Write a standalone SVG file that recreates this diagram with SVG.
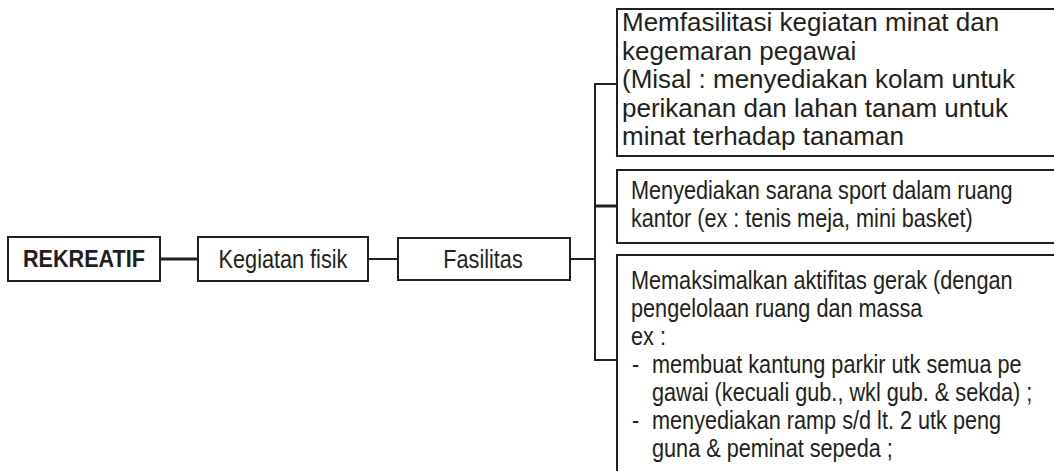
<svg xmlns="http://www.w3.org/2000/svg" width="1054" height="471" viewBox="0 0 1054 471">
<style>
.box{fill:#fff;stroke:#231f20;stroke-width:2}
.ln{fill:none;stroke:#231f20;stroke-width:2}
.thk{stroke-width:3}
.ar{font-family:"Liberation Sans",Arial,sans-serif;font-size:26px;fill:#231f20}
.nr{font-family:"Liberation Sans",Arial,sans-serif;font-size:25px;fill:#231f20}
.bd{font-family:"Liberation Sans",Arial,sans-serif;font-size:23px;font-weight:bold;fill:#231f20}
</style>
<rect width="1054" height="471" fill="#fff"/>
<g id="connectors">
<line class="ln thk" x1="160" y1="259" x2="198" y2="259"/>
<line class="ln" x1="368" y1="259" x2="398" y2="259"/>
<line class="ln" x1="570" y1="259" x2="595" y2="259"/>
<line class="ln" x1="595" y1="83" x2="595" y2="361"/>
<line class="ln" x1="594" y1="84" x2="617" y2="84"/>
<line class="ln thk" x1="594" y1="206" x2="617" y2="206"/>
<line class="ln" x1="594" y1="360" x2="617" y2="360"/>
</g>
<g id="rekreatif">
<rect class="box" x="8" y="237" width="152" height="44"/>
<text class="bd" x="84" y="267" text-anchor="middle" textLength="122" lengthAdjust="spacingAndGlyphs">REKREATIF</text>
</g>
<g id="kegiatan-fisik">
<rect class="box" x="198" y="237" width="170" height="44"/>
<text class="nr" transform="translate(283,268) scale(0.867,1)" text-anchor="middle">Kegiatan fisik</text>
</g>
<g id="fasilitas">
<rect class="box" x="398" y="238" width="172" height="42"/>
<text class="nr" transform="translate(483,268) scale(0.867,1)" text-anchor="middle">Fasilitas</text>
</g>
<g id="box-minat">
<rect class="box" x="617" y="9" width="440" height="147"/>
<text class="ar" x="622" y="31">Memfasilitasi kegiatan minat dan</text>
<text class="ar" x="622" y="59.5">kegemaran pegawai</text>
<text class="ar" x="622" y="88">(Misal : menyediakan kolam untuk</text>
<text class="ar" x="622" y="116.5">perikanan dan lahan tanam untuk</text>
<text class="ar" x="622" y="145">minat terhadap tanaman</text>
</g>
<g id="box-sport">
<rect class="box" x="617" y="170" width="440" height="73"/>
<text class="nr" transform="translate(631,199) scale(0.867,1)">Menyediakan sarana sport dalam ruang</text>
<text class="nr" transform="translate(631,227) scale(0.867,1)">kantor (ex : tenis meja, mini basket)</text>
</g>
<g id="box-gerak">
<rect class="box" x="617" y="255" width="440" height="230"/>
<text class="nr" transform="translate(631,289) scale(0.867,1)">Memaksimalkan aktifitas gerak (dengan</text>
<text class="nr" transform="translate(631,317) scale(0.867,1)">pengelolaan ruang dan massa</text>
<text class="nr" transform="translate(631,345) scale(0.867,1)">ex :</text>
<text class="nr" transform="translate(632,373) scale(0.867,1)">-</text>
<text class="nr" transform="translate(652,373) scale(0.867,1)">membuat kantung parkir utk semua pe</text>
<text class="nr" transform="translate(652,401) scale(0.867,1)">gawai (kecuali gub., wkl gub. &amp; sekda) ;</text>
<text class="nr" transform="translate(632,429) scale(0.867,1)">-</text>
<text class="nr" transform="translate(652,429) scale(0.867,1)">menyediakan ramp s/d lt. 2 utk peng</text>
<text class="nr" transform="translate(652,457) scale(0.867,1)">guna &amp; peminat sepeda ;</text>
</g>
</svg>
